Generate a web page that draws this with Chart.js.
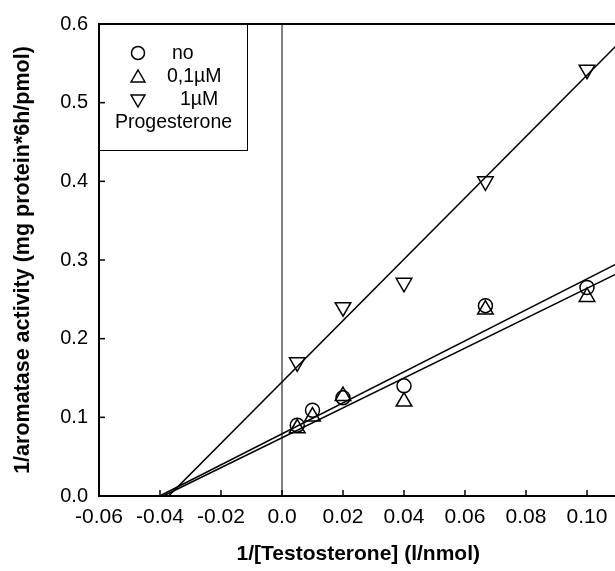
<!DOCTYPE html>
<html>
<head>
<meta charset="utf-8">
<script src="https://cdn.jsdelivr.net/npm/chart.js@4"></script>
<style>
html,body{margin:0;padding:0;background:#fff;overflow:hidden;}
</style>
</head>
<body>
<canvas id="lb" width="628" height="571"></canvas>
<script>

// 1/[Testosterone] values (l/nmol)
const xVals = [0.005, 0.01, 0.02, 0.04, 0.0667, 0.1];
const noProg = [0.090, 0.109, 0.125, 0.140, 0.242, 0.265];
const prog01 = [0.086, 0.101, 0.127, 0.120, 0.237, 0.253];

const xVals1 = [0.005, 0.02, 0.04, 0.0667, 0.1];
const prog1 = [0.170, 0.240, 0.271, 0.400, 0.542];

// fitted lines: [slope, intercept]
const fitNo = [1.97, 0.079];
const fit01 = [1.90, 0.074];
const fit1 = [3.90, 0.145];

const xTicks = [-0.06, -0.04, -0.02, 0, 0.02, 0.04, 0.06, 0.08, 0.10];
const yTicks = [0, 0.1, 0.2, 0.3, 0.4, 0.5, 0.6];

const xMin = -0.06, xMax = 0.11;
const yMin = 0, yMax = 0.6;

const legendItems = ["no", "0,1\u00b5M", "1\u00b5M"];
const legendNote = "Progesterone";


function pts(xs, ys){
    return xs.map((x,i)=>({x:x, y:ys[i]}));
}

// line from y=0 up to the right edge
function fitLine(f){
    return [
        {x: -f[1]/f[0], y: 0},
        {x: xMax, y: f[0]*xMax + f[1]}
    ];
}

function lineSet(data, w){
    return {
        data: data,
        showLine: true,
        borderColor: "#000",
        borderWidth: w,
        pointRadius: 0,
        fill: false
    };
}

function pointSet(data, style, r, rot){
    return {
        data: data,
        showLine: false,
        pointStyle: style,
        pointRadius: r,
        pointRotation: rot || 0,
        pointBorderColor: "#000",
        pointBackgroundColor: "rgba(0,0,0,0)",
        pointBorderWidth: 1.5
    };
}


function stroke(ctx, x1, y1, x2, y2){
    ctx.beginPath();
    ctx.moveTo(x1, y1);
    ctx.lineTo(x2, y2);
    ctx.stroke();
}

function tri(ctx, x, y, r, down){
    const s = down ? -1 : 1;
    ctx.beginPath();
    ctx.moveTo(x, y - s*r);
    ctx.lineTo(x + r*0.866, y + s*r*0.5);
    ctx.lineTo(x - r*0.866, y + s*r*0.5);
    ctx.closePath();
    ctx.stroke();
}


const overlay = {
    id: "overlay",
    afterDatasetsDraw(chart){

        const ctx = chart.ctx;
        const a = chart.chartArea;
        const xs = chart.scales.x;
        const ys = chart.scales.y;

        ctx.save();
        ctx.strokeStyle = "#000";
        ctx.fillStyle = "#000";

        // inward ticks
        ctx.lineWidth = 1.5;
        xTicks.forEach(v=>{
            const px = xs.getPixelForValue(v);
            stroke(ctx, px, a.bottom, px, a.bottom - 6);
        });
        yTicks.forEach(v=>{
            const py = ys.getPixelForValue(v);
            stroke(ctx, a.left, py, a.left + 6, py);
        });

        // top frame
        ctx.lineWidth = 2;
        stroke(ctx, a.left, a.top, a.right, a.top);

        // legend box
        ctx.lineWidth = 1;
        ctx.strokeRect(a.left + 0.5, a.top + 0.5, 148, 126);

        ctx.lineWidth = 1.5;
        ctx.beginPath();
        ctx.arc(138, 53, 6.5, 0, Math.PI*2);
        ctx.stroke();
        tri(ctx, 138, 78, 8, false);
        tri(ctx, 138, 99, 8, true);

        ctx.font = "19.5px 'Liberation Sans', Arial, sans-serif";
        ctx.textBaseline = "middle";
        ctx.textAlign = "left";
        ctx.fillText(legendItems[0], 172, 54);
        ctx.fillText(legendItems[1], 167, 77);
        ctx.fillText(legendItems[2], 180, 100);
        ctx.fillText(legendNote, 115, 123);

        ctx.restore();
    }
};


Chart.defaults.font.family = "'Liberation Sans', Arial, sans-serif";
Chart.defaults.color = "#000";

new Chart(document.getElementById("lb"), {

type: "scatter",

data: {
    datasets: [
        lineSet([{x:0, y:yMin}, {x:0, y:yMax}], 1),
        lineSet(fitLine(fitNo), 1.6),
        lineSet(fitLine(fit01), 1.6),
        lineSet(fitLine(fit1), 1.6),
        pointSet(pts(xVals, noProg), "circle", 7),
        pointSet(pts(xVals, prog01), "triangle", 9),
        pointSet(pts(xVals1, prog1), "triangle", 9, 180)
    ]
},

options: {
    responsive: false,
    animation: false,
    devicePixelRatio: 1,
    layout: {
        padding: {top: 24, right: 3, left: 0, bottom: 0}
    },
    plugins: {
        legend: {display: false},
        tooltip: {enabled: false}
    },
    scales: {
        x: {
            type: "linear",
            min: xMin,
            max: xMax,
            afterFit(s){ s.height = 75; },
            afterBuildTicks(s){ s.ticks = xTicks.map(v=>({value:v})); },
            grid: {drawOnChartArea: false, drawTicks: false},
            border: {color: "#000", width: 2},
            ticks: {
                autoSkip: false,
                maxRotation: 0,
                padding: 9,
                font: {size: 21},
                callback: v => v === 0 ? "0.0" : v.toFixed(2)
            },
            title: {
                display: true,
                text: "1/[Testosterone] (l/nmol)",
                font: {size: 21, weight: "bold"},
                padding: {top: 0, bottom: 4}
            }
        },
        y: {
            type: "linear",
            min: yMin,
            max: yMax,
            afterFit(s){ s.width = 99; },
            afterBuildTicks(s){ s.ticks = yTicks.map(v=>({value:v})); },
            grid: {drawOnChartArea: false, drawTicks: false},
            border: {color: "#000", width: 2},
            ticks: {
                autoSkip: false,
                padding: 11,
                font: {size: 20},
                callback: v => v.toFixed(1)
            },
            title: {
                display: true,
                text: "1/aromatase activity (mg protein*6h/pmol)",
                font: {size: 21.5, weight: "bold"},
                padding: {top: 10, bottom: 0}
            }
        }
    }
},

plugins: [overlay]

});

</script>
</body>
</html>
